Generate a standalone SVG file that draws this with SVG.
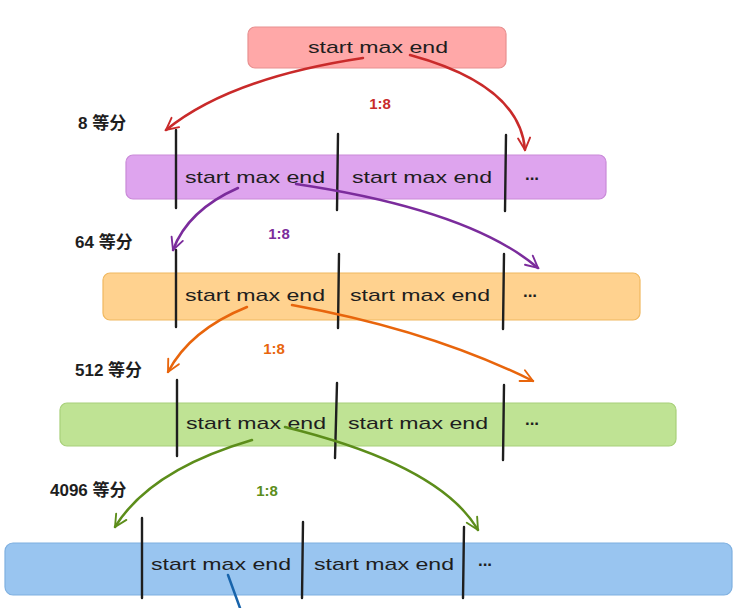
<svg xmlns="http://www.w3.org/2000/svg" width="743" height="608" viewBox="0 0 743 608">
<defs>
<style>
.t{font-family:"Liberation Sans",Arial,sans-serif;font-size:17px;fill:#1e1e1e;text-anchor:middle;dominant-baseline:central}
.dots{font-family:"Liberation Sans",Arial,sans-serif;font-size:17px;font-weight:bold;fill:#1e1e1e;text-anchor:middle;dominant-baseline:central}
.lbl{font-family:"Liberation Sans","Noto Sans CJK SC",sans-serif;font-size:17px;fill:#1e1e1e;font-weight:bold}
.ratio{font-family:"Liberation Sans",sans-serif;font-size:15px;font-weight:bold;text-anchor:middle;dominant-baseline:central}
.div{stroke:#1e1e1e;stroke-width:2.4;fill:none;stroke-linecap:round}
.c{fill:none;stroke-width:2.5;stroke-linecap:round}
</style>
<marker id="ar" viewBox="0 0 20 20" refX="18" refY="10" markerWidth="15" markerHeight="15" markerUnits="userSpaceOnUse" orient="auto"><path d="M2,2 L18,10 L2,18" fill="none" stroke="#c92a2a" stroke-width="2.5" stroke-linecap="round"/></marker>
<marker id="ap" viewBox="0 0 20 20" refX="18" refY="10" markerWidth="15" markerHeight="15" markerUnits="userSpaceOnUse" orient="auto"><path d="M2,2 L18,10 L2,18" fill="none" stroke="#7b2c9c" stroke-width="2.5" stroke-linecap="round"/></marker>
<marker id="ao" viewBox="0 0 20 20" refX="18" refY="10" markerWidth="15" markerHeight="15" markerUnits="userSpaceOnUse" orient="auto"><path d="M2,2 L18,10 L2,18" fill="none" stroke="#e8650c" stroke-width="2.5" stroke-linecap="round"/></marker>
<marker id="ag" viewBox="0 0 20 20" refX="18" refY="10" markerWidth="15" markerHeight="15" markerUnits="userSpaceOnUse" orient="auto"><path d="M2,2 L18,10 L2,18" fill="none" stroke="#5c8d1a" stroke-width="2.5" stroke-linecap="round"/></marker>
</defs>
<rect width="743" height="608" fill="#ffffff"/>

<g id="top">
<rect x="248" y="27" width="258" height="41" rx="7" fill="#ffa8a8" stroke="#e89090" stroke-width="1.2"/>
<text class="t" x="378" y="47" textLength="140" lengthAdjust="spacingAndGlyphs">start max end</text>
</g>

<g id="level8">
<rect x="126" y="155" width="480" height="44" rx="7" fill="#dea4ee" stroke="#c98ad8" stroke-width="1.2"/>
<text class="t" x="255" y="177" textLength="140" lengthAdjust="spacingAndGlyphs">start max end</text>
<text class="t" x="422" y="177" textLength="140" lengthAdjust="spacingAndGlyphs">start max end</text>
<text class="dots" x="532" y="174">...</text>
<line class="div" x1="176" y1="130" x2="176" y2="208"/>
<line class="div" x1="338" y1="134" x2="337" y2="210"/>
<line class="div" x1="506" y1="135" x2="505" y2="211"/>
<text class="lbl" x="78" y="129">8 等分</text>
</g>

<g id="level64">
<rect x="103" y="273" width="537" height="47" rx="7" fill="#ffd28f" stroke="#f0b860" stroke-width="1.2"/>
<text class="t" x="255" y="295" textLength="140" lengthAdjust="spacingAndGlyphs">start max end</text>
<text class="t" x="420" y="295" textLength="140" lengthAdjust="spacingAndGlyphs">start max end</text>
<text class="dots" x="530" y="291">...</text>
<line class="div" x1="176" y1="250" x2="176" y2="327"/>
<line class="div" x1="339" y1="254" x2="338" y2="328"/>
<line class="div" x1="504" y1="254" x2="503" y2="329"/>
<text class="lbl" x="75" y="248">64 等分</text>
</g>

<g id="level512">
<rect x="60" y="403" width="616" height="43" rx="7" fill="#bfe394" stroke="#a8d07a" stroke-width="1.2"/>
<text class="t" x="256" y="423" textLength="140" lengthAdjust="spacingAndGlyphs">start max end</text>
<text class="t" x="418" y="423" textLength="140" lengthAdjust="spacingAndGlyphs">start max end</text>
<text class="dots" x="532" y="419">...</text>
<line class="div" x1="177" y1="380" x2="177" y2="456"/>
<line class="div" x1="337" y1="383" x2="335" y2="458"/>
<line class="div" x1="504" y1="385" x2="503" y2="460"/>
<text class="lbl" x="75" y="376">512 等分</text>
</g>

<g id="level4096">
<rect x="5" y="543" width="727" height="52" rx="8" fill="#99c5f0" stroke="#7fb0e0" stroke-width="1.2"/>
<text class="t" x="221" y="564" textLength="140" lengthAdjust="spacingAndGlyphs">start max end</text>
<text class="t" x="384" y="564" textLength="140" lengthAdjust="spacingAndGlyphs">start max end</text>
<text class="dots" x="485" y="560">...</text>
<line class="div" x1="142" y1="518" x2="142" y2="598"/>
<line class="div" x1="303" y1="522" x2="302" y2="598"/>
<line class="div" x1="464" y1="527" x2="463" y2="598"/>
<text class="lbl" x="50" y="496">4096 等分</text>
</g>

<g id="connectors">
<path class="c" stroke="#c92a2a" d="M363,58 Q230,78 166,130" marker-end="url(#ar)"/>
<path class="c" stroke="#c92a2a" d="M410,55 Q520,85 525,150" marker-end="url(#ar)"/>
<text class="ratio" x="380" y="103" fill="#c92a2a">1:8</text>

<path class="c" stroke="#7b2c9c" d="M238,188 Q188,210 173,250" marker-end="url(#ap)"/>
<path class="c" stroke="#7b2c9c" d="M296,184 Q470,210 538,268" marker-end="url(#ap)"/>
<text class="ratio" x="279" y="233" fill="#7b2c9c">1:8</text>

<path class="c" stroke="#e8650c" d="M247,307 Q190,330 168,372" marker-end="url(#ao)"/>
<path class="c" stroke="#e8650c" d="M292,305 Q430,330 533,381" marker-end="url(#ao)"/>
<text class="ratio" x="274" y="348" fill="#e8650c">1:8</text>

<path class="c" stroke="#5c8d1a" d="M252,440 Q150,470 115,527" marker-end="url(#ag)"/>
<path class="c" stroke="#5c8d1a" d="M285,427 Q440,465 478,530" marker-end="url(#ag)"/>
<text class="ratio" x="267" y="490" fill="#5c8d1a">1:8</text>

<path class="c" stroke="#1864ab" d="M228,575 L240,608"/>
</g>
</svg>
